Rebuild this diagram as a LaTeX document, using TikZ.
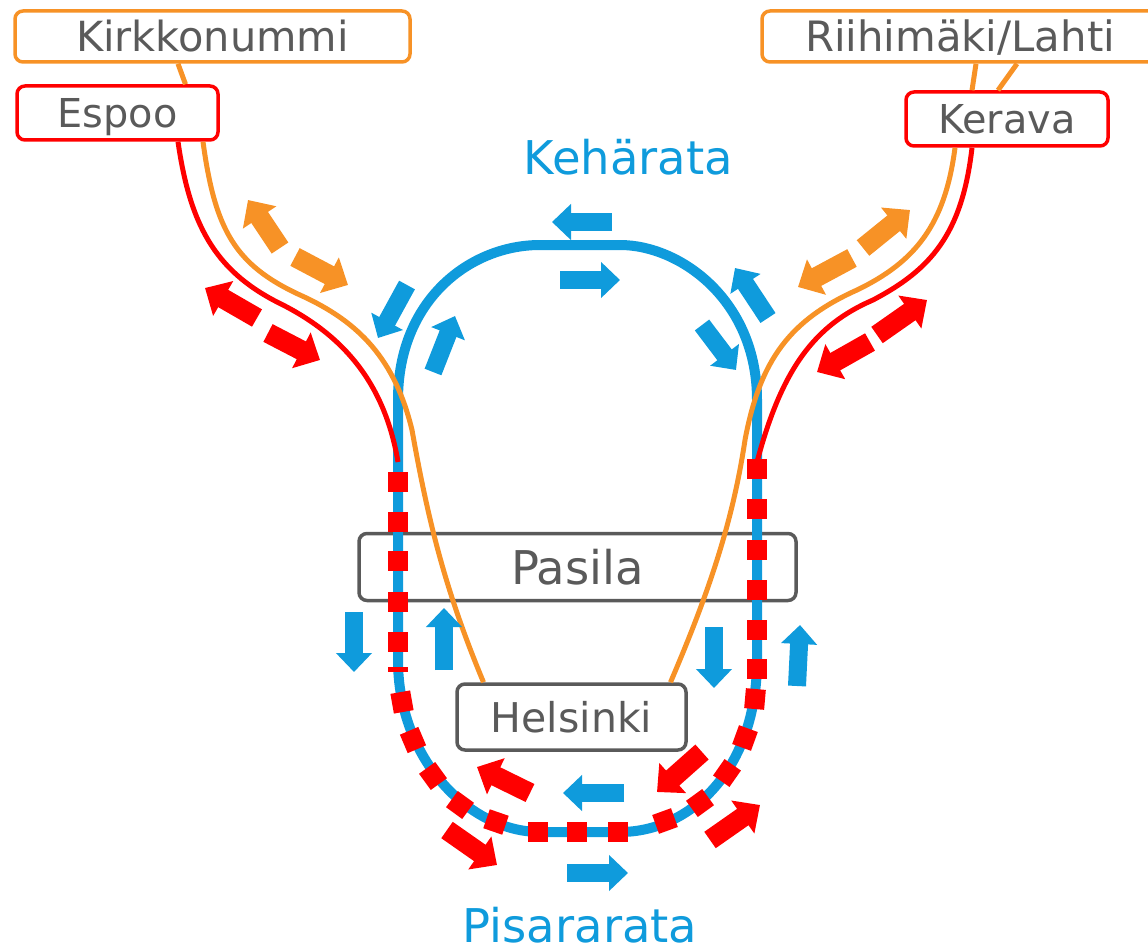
\documentclass[tikz,border=0pt]{standalone}
\usepackage{fontspec}
\setmainfont{DejaVu Sans}
\usetikzlibrary{arrows.meta}
\definecolor{railblue}{HTML}{0F9BDC}
\definecolor{railorange}{HTML}{F79226}
\definecolor{railred}{HTML}{FF0000}
\definecolor{labelgray}{HTML}{5A5A5A}
\begin{document}
\begin{tikzpicture}[x=1pt,y=-1pt]
        \tikzstyle{terminal}=[rectangle,rounded corners=8pt,line width=3.5pt,fill=white,inner sep=0pt,text=labelgray,text height=30pt,text depth=0pt]
        \tikzstyle{station}=[terminal,draw=labelgray,fill=none]
        \tikzstyle{track}=[line width=5pt,line join=round]
        \tikzstyle{redblock}=[rectangle,fill=railred,inner sep=0pt,minimum width=20pt,minimum height=20pt]
        \tikzstyle{railname}=[text=railblue,font=\fontsize{46.5pt}{50pt}\selectfont,text height=34pt,text depth=0pt,inner sep=0pt]
        \tikzstyle{dirarrow}=[line width=18pt,-{Triangle[length=19pt,width=35pt]}]
        \tikzstyle{boldarrow}=[line width=20pt,-{Triangle[length=21pt,width=39pt]}]
        \useasboundingbox (0,0) rectangle (1148,952);
        \node [terminal,draw=railorange,minimum width=395pt,minimum height=51pt,font=\fontsize{41.5pt}{45pt}\selectfont] (kirkkonummi) at (212.5,36.5) {Kirkkonummi};
        \node [terminal,draw=railred,minimum width=201pt,minimum height=54pt,text height=29pt,font=\fontsize{39.8pt}{44pt}\selectfont] (espoo) at (117.5,113) {Espoo};
        \node [terminal,draw=railorange,minimum width=396pt,minimum height=51pt,font=\fontsize{41.8pt}{45pt}\selectfont] (riihimaki) at (960,36.5) {Riihimäki/Lahti};
        \node [terminal,draw=railred,minimum width=202pt,minimum height=54pt,text height=29pt,font=\fontsize{39.8pt}{44pt}\selectfont] (kerava) at (1007,119) {Kerava};
        \node [station,minimum width=437pt,minimum height=67pt,text height=34pt,font=\fontsize{46.5pt}{50pt}\selectfont] (pasila) at (577.5,567) {Pasila};
        \node [station,minimum width=229pt,minimum height=66pt,font=\fontsize{41pt}{45pt}\selectfont] (helsinki) at (571.5,717) {Helsinki};
        \node [railname] (keharata) at (628.5,158) {Kehärata};
        \node [railname] (pisararata) at (580,925) {Pisararata};
        \draw [railblue,line width=10pt] (398,400) .. controls (398,300) and (470,245) .. (540,245) -- (620,245)
              .. controls (680,245) and (757,300) .. (757,400) -- (757,660)
              .. controls (757,770) and (690,832) .. (620,832) -- (540,832)
              .. controls (470,832) and (398,760) .. (398,660) -- cycle;
        \draw [track,railred] ([xshift=60.5pt]espoo.south) .. controls (190,225) and (215,270) .. (277,302)
              .. controls (345,335) and (385,385) .. (398,462);
        \draw [track,railred] ([xshift=-35pt]kerava.south) .. controls (962,235) and (930,270) .. (873,300)
              .. controls (815,325) and (782,368) .. (757,462);
        \draw [track,railorange] ([xshift=-34.5pt]kirkkonummi.south) -- ([xshift=68pt]espoo.north);
        \draw [track,railorange] ([xshift=85.5pt]espoo.south) .. controls (215,230) and (235,265) .. (300,295)
              .. controls (360,322) and (395,360) .. (412,430)
              .. controls (428,520) and (445,590) .. ([xshift=-88pt]helsinki.north);
        \draw [track,railorange] ([xshift=16pt]riihimaki.south) -- ([xshift=-35pt]kerava.north);
        \draw [track,railorange] ([xshift=57pt]riihimaki.south) -- ([xshift=-9pt]kerava.north);
        \draw [track,railorange] ([xshift=-52pt]kerava.south) .. controls (945,225) and (915,262) .. (857,290)
              .. controls (790,320) and (760,360) .. (745,440)
              .. controls (733,520) and (710,590) .. ([xshift=99pt]helsinki.north);
        \foreach \i/\x/\y/\a in {1/398/482/0,2/398/522/0,3/398/561/0,4/398/602/0,5/398/642/0,
                                 6/402/702/10,7/413/740/23,8/433/776/36,9/460/805/-36,10/496/822/-19,
                                 11/538/832/0,12/577/832/0,13/618/832/0,
                                 14/665/821/20,15/700/803/36,16/727/773/-35,17/745/738/-20,18/755/699/-5,
                                 19/757/669/0,20/757/630/0,21/757/590/0,22/757/550/0,23/757/509/0,24/757/469/0}
            \node [redblock,rotate=\a] (block\i) at (\x,\y) {};
        \node [redblock,minimum height=5pt] (blockthin) at (398,669) {};
        \foreach \i/\ax/\ay/\bx/\by in {1/612/222/552/222,2/560/280/620/280,3/407/285/378/338,4/433/372/455/316,
                                        5/768/318/735/268,6/702/325/736/370,7/354/612/354/672,8/444/670/444/608,
                                        9/714/627/714/688,10/797/686/800/625,11/624/793/563/793,12/567/873/628/873}
        {
            \coordinate (bluetail\i) at (\ax,\ay);
            \coordinate (bluetip\i) at (\bx,\by);
            \draw [dirarrow,railblue] (bluetail\i) -- (bluetip\i);
        }
        \foreach \i/\ax/\ay/\bx/\by in {1/280/248/248/200,2/295/257/348/285,3/852/258/798/287,4/863/248/910/210}
        {
            \coordinate (orangetail\i) at (\ax,\ay);
            \coordinate (orangetip\i) at (\bx,\by);
            \draw [boldarrow,railorange] (orangetail\i) -- (orangetip\i);
        }
        \foreach \i/\ax/\ay/\bx/\by in {1/257/318/205/288,2/268/333/320/360,3/870/342/817/372,4/877/335/927/300,
                                        5/530/793/477/767,6/702/752/657/792,7/447/830/497/865,8/710/840/760/805}
        {
            \coordinate (redtail\i) at (\ax,\ay);
            \coordinate (redtip\i) at (\bx,\by);
            \draw [boldarrow,railred] (redtail\i) -- (redtip\i);
        }
\end{tikzpicture}
\end{document}
